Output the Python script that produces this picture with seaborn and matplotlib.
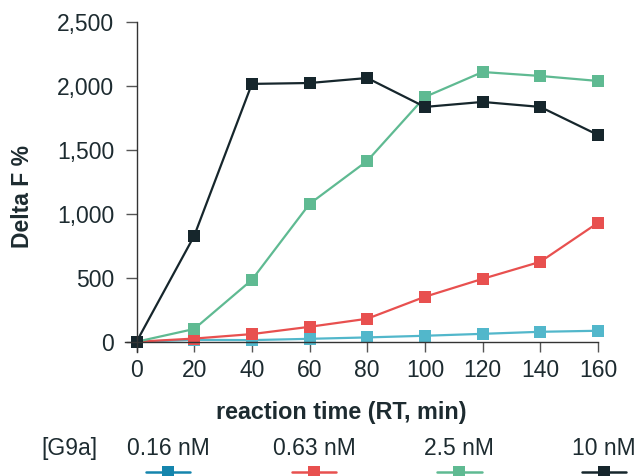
import pandas as pd
import matplotlib.pyplot as plt
import seaborn as sns
from matplotlib.lines import Line2D

# reaction time (min)
time_min = [0, 20, 40, 60, 80, 100, 120, 140, 160]

# Delta F % per G9a concentration
g9a_016 = [0, 15, 13, 23, 34, 47, 62, 78, 86]
g9a_063 = [0, 25, 60, 117, 180, 352, 492, 625, 930]
g9a_25 = [0, 100, 484, 1078, 1414, 1914, 2109, 2078, 2039]
g9a_10 = [0, 828, 2016, 2023, 2062, 1836, 1875, 1836, 1617]

labels = ['0.16 nM', '0.63 nM', '2.5 nM', '10 nM']
line_colors = ['#52b7cb', '#e8504f', '#5fba92', '#16262c']
legend_colors = ['#1585ad', '#e8504f', '#5fba92', '#16262c']

rows = []
for lab, vals in zip(labels, [g9a_016, g9a_063, g9a_25, g9a_10]):
    for t, v in zip(time_min, vals):
        rows.append({'time': t, 'delta': v, 'conc': lab})
df = pd.DataFrame(rows)

sns.set_style('ticks')
plt.rcParams['font.family'] = ['Liberation Sans', 'DejaVu Sans']
text_col = '#1d2b30'
fs = 16.5

fig = plt.figure(figsize=(6.37, 4.76), dpi=100)
ax = fig.add_axes([0.1962, 0.2605, 0.7425, 0.6933])

sns.lineplot(data=df, x='time', y='delta', hue='conc', hue_order=labels,
             palette=dict(zip(labels, line_colors)), marker='s', markersize=8.5,
             markeredgewidth=0, linewidth=1.6, dashes=False, legend=False,
             ax=ax, clip_on=False)

ax.set_xlim(-4, 160)
ax.set_ylim(-80, 2500)
ax.spines['left'].set_position(('data', 0))
ax.spines['bottom'].set_position(('data', 0))
for s in ['top', 'right']:
    ax.spines[s].set_visible(False)
for s in ['left', 'bottom']:
    ax.spines[s].set_color('#333333')
    ax.spines[s].set_linewidth(1.0)

ax.set_xticks(time_min)
ax.set_yticks([0, 500, 1000, 1500, 2000, 2500])
ax.set_yticklabels(['0', '500', '1,000', '1,500', '2,000', '2,500'])
ax.tick_params(axis='y', length=8, width=1, color='#555555', pad=8,
               labelsize=fs, labelcolor=text_col)
ax.tick_params(axis='x', length=7.5, width=1, color='#555555', pad=5,
               labelsize=fs, labelcolor=text_col)

ax.set_xlabel('')
ax.set_ylabel('')
fig.text(0.036, 0.588, 'Delta F %', rotation=90, ha='center', va='center',
         fontsize=16.5, fontweight='bold', color=text_col)
fig.text(0.535, 0.134, 'reaction time (RT, min)', ha='center', va='center',
         fontsize=16.8, fontweight='bold', color=text_col)

# legend row: label above a line+marker handle
fig.text(0.109, 0.057, '[G9a]', ha='center', va='center', fontsize=fs, color=text_col)
label_x = [0.264, 0.493, 0.721, 0.948]
for lx, lab, col in zip(label_x, labels, legend_colors):
    fig.text(lx, 0.057, lab, ha='center', va='center', fontsize=fs, color=text_col)
    fig.add_artist(Line2D([lx - 0.035, lx + 0.035], [0.009, 0.009], color=col,
                          linewidth=1.8, transform=fig.transFigure))
    fig.add_artist(Line2D([lx], [0.009], color=col, marker='s', markersize=8.5,
                          markeredgewidth=0, transform=fig.transFigure))

fig.savefig('out.png', dpi=100)
